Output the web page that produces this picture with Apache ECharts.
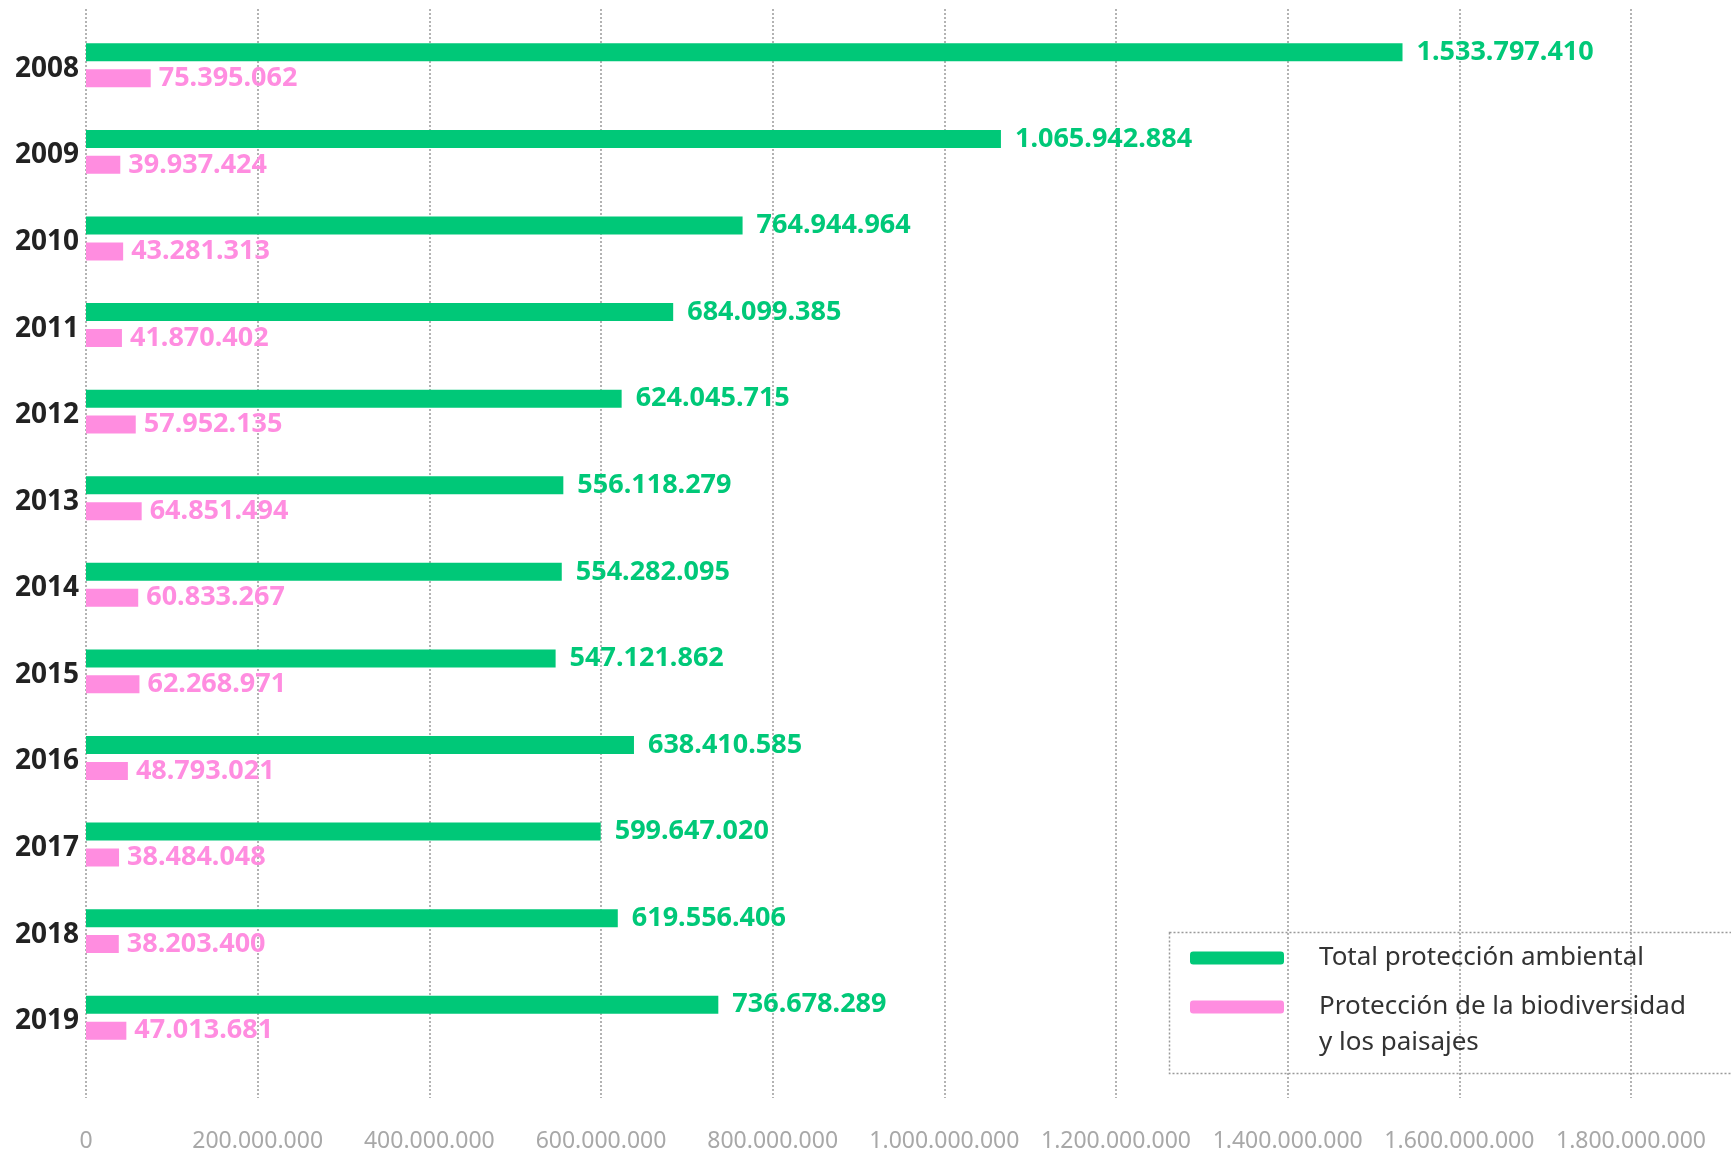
<!DOCTYPE html>
<html>
<head>
<meta charset="utf-8">
<script src="https://cdn.jsdelivr.net/npm/echarts@6/dist/echarts.min.js"></script>
<style>
  html, body { margin: 0; padding: 0; background: #fff; }
  #chart { width: 1731px; height: 1153px; }
</style>
</head>
<body>
<div id="chart"></div>
<script>
// años
var years = ['2008', '2009', '2010', '2011', '2012', '2013', '2014', '2015', '2016', '2017', '2018', '2019'];
// Total protección ambiental
var totalValues = [1533797410, 1065942884, 764944964, 684099385, 624045715, 556118279, 554282095, 547121862, 638410585, 599647020, 619556406, 736678289];
// Protección de la biodiversidad y los paisajes
var bioValues = [75395062, 39937424, 43281313, 41870402, 57952135, 64851494, 60833267, 62268971, 48793021, 38484048, 38203400, 47013681];
var xMax = 1800000000;
var xStep = 200000000;

var GREEN = '#00c878';
var PINK = '#ff8de0';
var nameTotal = 'Total protección ambiental';
var nameBio = 'Protección de la biodiversidad y los paisajes';

// separador de miles con punto
function fmt(v) {
    return String(v).replace(/\B(?=(\d{3})+(?!\d))/g, '.');
}

var myChart = echarts.init(document.getElementById('chart'));

var option = {
    animation: false,
    textStyle: { fontFamily: 'Noto Sans' },
    grid: [
        // solo para las líneas de división y etiquetas del eje X
        { left: 86, right: 100, top: 9, bottom: 53 },
        // barras
        { left: 86, right: 100, top: 22, height: 1039 }
    ],
    xAxis: [{
        gridIndex: 0,
        type: 'value',
        min: 0,
        max: xMax,
        interval: xStep,
        axisLine: { show: false },
        axisTick: { show: false },
        splitLine: { lineStyle: { color: '#9a9a9a', type: [2, 2], width: 1.5 } },
        axisLabel: {
            margin: 32,
            color: '#a8a8a8',
            fontSize: 23,
            formatter: fmt
        }
    }, {
        gridIndex: 1,
        type: 'value',
        min: 0,
        max: xMax,
        show: false
    }],
    yAxis: [{
        gridIndex: 0,
        type: 'value',
        show: false
    }, {
        gridIndex: 1,
        type: 'category',
        inverse: true,
        data: years,
        axisLine: { show: false },
        axisTick: { show: false },
        axisLabel: {
            margin: 7,
            formatter: '{y|{value}}',
            rich: {
                y: {
                    color: '#222',
                    fontSize: 28,
                    fontWeight: 'bold',
                    padding: [7, 0, 0, 0]
                }
            }
        }
    }],
    legend: [{
        data: [nameTotal],
        left: 1190,
        top: 940,
        padding: 0,
        icon: 'roundRect',
        itemWidth: 94,
        itemHeight: 13,
        textStyle: { fontSize: 26, lineHeight: 36, color: '#333', padding: [0, 0, 0, 30] }
    }, {
        data: [nameBio],
        left: 1190,
        top: 953,
        padding: 0,
        icon: 'roundRect',
        itemWidth: 94,
        itemHeight: 13,
        formatter: function (name) {
            // primera línea vacía para que el icono quede a la altura de la primera línea de texto
            return ' \n' + name.replace(' y los', '\ny los');
        },
        textStyle: { fontSize: 26, lineHeight: 36, color: '#333', padding: [0, 0, 0, 30] }
    }],
    graphic: [{
        type: 'rect',
        left: 1167,
        top: 930,
        shape: { width: 580, height: 141 },
        style: { fill: 'none', stroke: '#9a9a9a', lineWidth: 1.5, lineDash: [2, 2] },
        silent: true
    }],
    series: [{
        name: nameTotal,
        type: 'bar',
        xAxisIndex: 1,
        yAxisIndex: 1,
        data: totalValues,
        barWidth: 18,
        barGap: '44%',
        itemStyle: { color: GREEN },
        label: {
            show: true,
            position: 'right',
            distance: 14,
            color: GREEN,
            fontSize: 27,
            fontWeight: 'bold',
            formatter: function (p) { return fmt(p.value); }
        }
    }, {
        name: nameBio,
        type: 'bar',
        xAxisIndex: 1,
        yAxisIndex: 1,
        data: bioValues,
        barWidth: 18,
        itemStyle: { color: PINK },
        label: {
            show: true,
            position: 'right',
            distance: 8,
            color: PINK,
            fontSize: 27,
            fontWeight: 'bold',
            formatter: function (p) { return fmt(p.value); }
        }
    }]
};

myChart.setOption(option);

window.addEventListener('resize', function () {
    myChart.resize();
});
</script>
</body>
</html>
